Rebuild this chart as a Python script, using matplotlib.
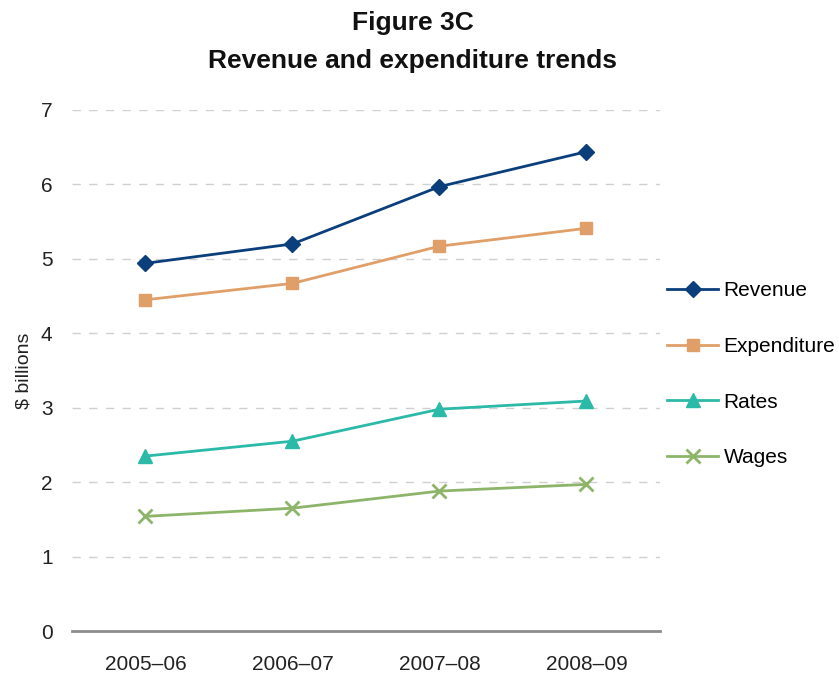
import matplotlib.pyplot as plt

plt.rcParams['font.family'] = ['Liberation Sans', 'DejaVu Sans']

# Data ($ billions)
years = ["2005–06", "2006–07", "2007–08", "2008–09"]
revenue = [4.94, 5.20, 5.97, 6.44]
expenditure = [4.45, 4.67, 5.17, 5.41]
rates = [2.35, 2.55, 2.98, 3.09]
wages = [1.54, 1.65, 1.88, 1.97]

fig = plt.figure(figsize=(8.39, 6.73), dpi=100)
ax = fig.add_axes([0.0858, 0.0624, 0.7008, 0.7742])

x = range(len(years))
ax.plot(x, revenue, color="#0b3f7c", marker="D", markersize=8, linewidth=2, label="Revenue")
ax.plot(x, expenditure, color="#e09f69", marker="s", markersize=9, linewidth=2, label="Expenditure")
ax.plot(x, rates, color="#2bb9a8", marker="^", markersize=10, linewidth=2, label="Rates")
ax.plot(x, wages, color="#8db56a", marker="x", markersize=10, markeredgewidth=2,
        linewidth=2, label="Wages")

ax.set_xlim(-0.5, 3.5)
ax.set_ylim(0, 7)
ax.set_xticks(list(x))
ax.set_xticklabels(years)
ax.set_yticks(range(0, 8))
ax.tick_params(axis="both", length=0, labelsize=15, colors="#222222")
ax.tick_params(axis="x", pad=17)
ax.tick_params(axis="y", pad=14)

ax.grid(axis="y", color="#d0d0d0", linestyle=(0, (6, 6)), linewidth=1)
ax.set_axisbelow(True)
for side in ["left", "right", "top"]:
    ax.spines[side].set_visible(False)
ax.spines["bottom"].set_color("#8c8c8c")
ax.spines["bottom"].set_linewidth(2)

ax.set_ylabel("$ billions", fontsize=14, color="#222222", labelpad=6)

fig.text(0.492, 1 - 23 / 673, "Figure 3C", ha="center", va="center",
         fontsize=19, fontweight="bold", color="#111111")
fig.text(0.492, 1 - 61 / 673, "Revenue and expenditure trends", ha="center", va="center",
         fontsize=19, fontweight="bold", color="#111111")

fig.legend(loc="upper left", bbox_to_anchor=(0.7955, 0.582), frameon=False, fontsize=15,
           handlelength=2.45, handletextpad=0.25, labelspacing=1.76, borderaxespad=0,
           borderpad=0)

fig.savefig("out.png", dpi=100)
